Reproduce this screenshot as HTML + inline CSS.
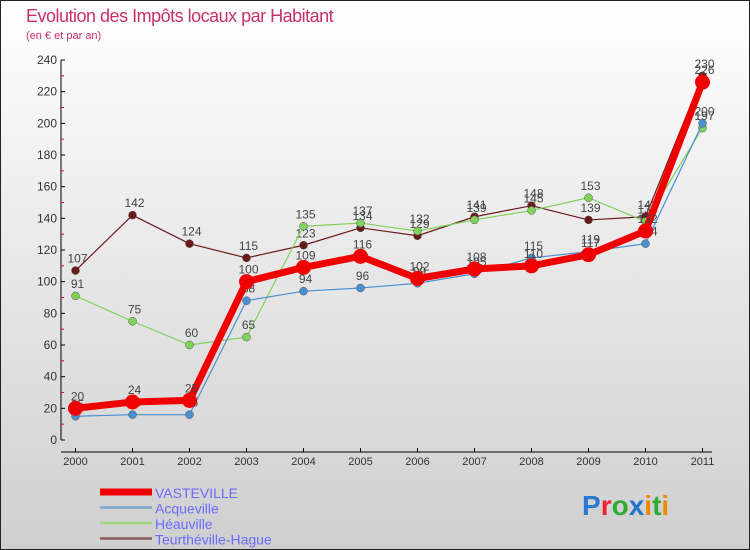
<!DOCTYPE html>
<html><head><meta charset="utf-8"><style>
body{margin:0;width:750px;height:550px;overflow:hidden;font-family:"Liberation Sans",sans-serif}
#wrap{position:absolute;left:0;top:0;width:748px;height:548px;border:1px solid #222;background:linear-gradient(#ffffff,#cfcfcf)}
</style></head><body>
<div id="wrap">
<svg id="svg" width="750" height="550" style="position:absolute;left:-1px;top:-1px">
<text x="26" y="22" font-size="18" fill="#c8306a" style="letter-spacing:-0.5px">Evolution des Impôts locaux par Habitant</text>
<text x="26" y="39" font-size="11" fill="#c8306a">(en € et par an)</text>
<g id="axes"></g><g id="series"></g><g id="legend"></g>
<text x="582" y="515" font-size="28" font-weight="bold"><tspan fill="#2a7ad0">P</tspan><tspan fill="#e23">r</tspan><tspan fill="#3a3">o</tspan><tspan fill="#27c">x</tspan><tspan fill="#e80">i</tspan><tspan fill="#3a3">t</tspan><tspan fill="#e80">i</tspan></text>
</svg></div>
<script>
const years=[2000,2001,2002,2003,2004,2005,2006,2007,2008,2009,2010,2011];
const vasteville=[20,24,25,100,109,116,102,108,110,117,132,226];
const acqueville=[15,16,16,88,94,96,99,105,115,119,124,200];
const heauville=[91,75,60,65,135,137,132,139,145,153,138,197];
const teurtheville=[107,142,124,115,123,134,129,141,148,139,141,230];
const yTicks=[0,20,40,60,80,100,120,140,160,180,200,220,240];
const NS="http://www.w3.org/2000/svg";
const X=i=>75.5+i*57;
const Y=v=>440-v*380/240;
function mk(t,a,p){const e=document.createElementNS(NS,t);for(const k in a)e.setAttribute(k,a[k]);p.appendChild(e);return e;}
const ax=document.getElementById('axes');
let l=mk('line',{x1:61,y1:440,x2:61,y2:60,stroke:'#000'},ax);


l=mk('line',{x1:61,y1:452,x2:712,y2:452,stroke:'#000'},ax);


yTicks.forEach(v=>{
  mk('line',{x1:61,y1:Y(v),x2:65,y2:Y(v),stroke:'#000'},ax);
  if(v<240)mk('line',{x1:61,y1:Y(v+10),x2:64,y2:Y(v+10),stroke:'#e00'},ax);
  const t=mk('text',{x:57,y:Y(v)+4,'font-size':12,fill:'#333','text-anchor':'end'},ax);
  t.textContent=v;
  
  
});
years.forEach((y,i)=>{
  mk('line',{x1:X(i),y1:448,x2:X(i),y2:452,stroke:'#000'},ax);
  const t=mk('text',{x:X(i),y:465,'font-size':11,fill:'#333','text-anchor':'middle'},ax);
  t.textContent=y;
  
  
});
const sg=document.getElementById('series');
const defs=[
 {name:'teurtheville',data:teurtheville,c:'#6b1a1a',w:1.2,r:4},
 {name:'heauville',data:heauville,c:'#7fd25a',w:1.2,r:4},
 {name:'acqueville',data:acqueville,c:'#4a90d0',w:1.2,r:4},
 {name:'vasteville',data:vasteville,c:'#f00000',w:7,r:7.5}];
defs.forEach(s=>{
  const g=mk('g',{},sg);
  
  
  const p=mk('polyline',{points:s.data.map((v,i)=>X(i)+','+Y(v)).join(' '),fill:'none',stroke:s.c,'stroke-width':s.w,'stroke-linejoin':'round'},g);
  
  
  s.data.forEach((v,i)=>{
    const c=mk('circle',{cx:X(i),cy:Y(v),r:s.r,fill:s.c,stroke:s.w>2?'none':'#555','stroke-width':0.5},g);
    
    
    const t=mk('text',{x:X(i)+2,y:Y(v)-8,'font-size':12,fill:'#444','text-anchor':'middle'},g);
    t.textContent=v;
    
    
  });
});
const lg=document.getElementById('legend');
[['VASTEVILLE','#f00000',7],['Acqueville','#7aa8cc',2.5],['Héauville','#9ed47a',2.5],['Teurthéville-Hague','#8a5a5a',2.5]].forEach((e,i)=>{
  const y=492+i*15.5;
  const g=mk('g',{},lg);
  
  
  mk('line',{x1:100,y1:y,x2:152,y2:y,stroke:e[1],'stroke-width':e[2]},g);
  const t=mk('text',{x:155,y:y+6,'font-size':14,fill:'#6a6aff'},g);
  t.textContent=e[0];
});
</script>
</body></html>
